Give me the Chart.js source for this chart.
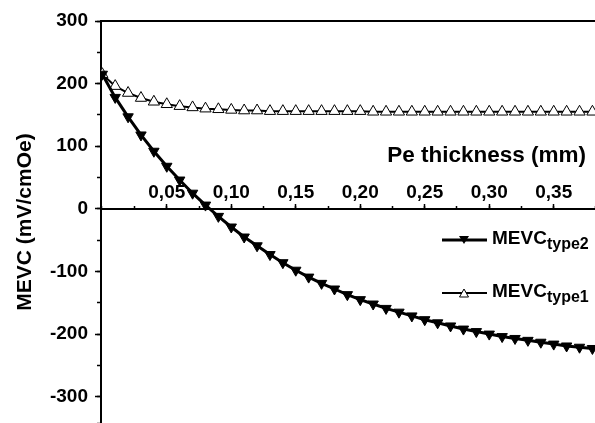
<!DOCTYPE html>
<html lang="en">
<head>
    <meta charset="UTF-8">
    <title>MEVC vs Pe thickness</title>
    <script src="https://cdn.jsdelivr.net/npm/chart.js"></script>
    <style>
        body {
            margin: 0;
            background: #fff;
            font-family: 'Liberation Sans', Arial, sans-serif;
        }

        .wrap {
            position: relative;
            width: 595px;
            height: 423px;
            overflow: hidden;
        }

        .x-title {
            position: absolute;
            right: 9px;
            top: 141px;
            font-weight: bold;
            font-size: 22.5px;
            line-height: 28px;
            color: #000;
        }

        .legend {
            position: absolute;
            left: 442px;
            top: 226px;
            font-weight: bold;
            color: #000;
        }

        .legend .row {
            display: flex;
            align-items: center;
            height: 28px;
            margin-bottom: 25px;
            font-size: 19px;
        }

        .legend svg {
            margin-right: 5px;
        }

        .legend sub {
            font-size: 16px;
            vertical-align: -5px;
        }
    </style>
</head>
<body>

<div class="wrap">
    <canvas id="chart" width="595" height="423"></canvas>

    <div class="x-title">Pe thickness (mm)</div>

    <div class="legend">
        <div class="row">
            <svg width="45" height="14">
                <line x1="0" y1="7" x2="45" y2="7" stroke="#000" stroke-width="3"/>
                <polygon points="17,3 27,3 22,11" fill="#000"/>
            </svg>
            <span>MEVC<sub>type2</sub></span>
        </div>
        <div class="row">
            <svg width="45" height="14">
                <line x1="0" y1="7" x2="45" y2="7" stroke="#000" stroke-width="2"/>
                <polygon points="17.5,11 26.5,11 22,3" fill="#fff" stroke="#000" stroke-width="1"/>
            </svg>
            <span>MEVC<sub>type1</sub></span>
        </div>
    </div>
</div>

<script>
    // Pe thickness (mm)
    const thickness = [0, 0.01, 0.02, 0.03, 0.04, 0.05, 0.06, 0.07, 0.08, 0.09,
        0.10, 0.11, 0.12, 0.13, 0.14, 0.15, 0.16, 0.17, 0.18, 0.19,
        0.20, 0.21, 0.22, 0.23, 0.24, 0.25, 0.26, 0.27, 0.28, 0.29,
        0.30, 0.31, 0.32, 0.33, 0.34, 0.35, 0.36, 0.37, 0.38];

    // MEVC (mV/cmOe)
    const mevcType2 = [215, 178, 147, 118, 92, 68, 46, 25, 6, -12,
        -29, -45, -59, -73, -86, -98, -109, -119, -128, -137,
        -145, -152, -159, -165, -171, -177, -182, -187, -192, -196,
        -200, -204, -207, -210, -213, -216, -219, -221, -223];

    const mevcType1 = [215, 196, 185, 177, 171, 167, 164, 162, 160, 159,
        158, 157, 157, 156, 156, 156, 156, 156, 156, 156,
        156, 155, 155, 155, 155, 155, 155, 155, 155, 155,
        155, 155, 155, 155, 155, 155, 155, 155, 155];

    const xTicks = [0.05, 0.10, 0.15, 0.20, 0.25, 0.30, 0.35];
    const yTicks = [-300, -200, -100, 0, 100, 200, 300];

    const xMin = -0.001, xMax = 0.382;
    const yMin = -342, yMax = 300;

    Chart.defaults.font.family = "'Liberation Sans', Arial, sans-serif";
    Chart.defaults.color = '#000';

    const tickFont = { size: 19, weight: 'bold' };

    function points(values) {
        return thickness.map((t, i) => ({ x: t, y: values[i] }));
    }

    // vertical axes reserve half a label at both ends; the plot runs to the edge here
    function noEndPadding(s) {
        s.paddingTop = 0;
        s.paddingBottom = 0;
    }

    const ctx = document.getElementById('chart').getContext('2d');

    new Chart(ctx, {
        type: 'line',
        data: {
            datasets: [{
                label: 'MEVC type2',
                data: points(mevcType2),
                borderColor: '#000',
                borderWidth: 3,
                pointStyle: 'triangle',
                rotation: 180,
                pointRadius: 6,
                pointBackgroundColor: '#000',
                pointBorderColor: '#000',
                pointBorderWidth: 1
            }, {
                label: 'MEVC type1',
                data: points(mevcType1),
                borderColor: '#000',
                borderWidth: 2,
                pointStyle: 'triangle',
                pointRadius: 6.5,
                pointBackgroundColor: '#fff',
                pointBorderColor: '#000',
                pointBorderWidth: 1
            }]
        },
        options: {
            responsive: false,
            animation: false,
            layout: {
                autoPadding: false,
                padding: { top: 21, left: 0, right: 0, bottom: 0 }
            },
            plugins: {
                legend: { display: false },
                tooltip: { enabled: false }
            },
            scales: {
                x: {
                    type: 'linear',
                    axis: 'x',
                    min: xMin,
                    max: xMax,
                    position: { y: 0 },
                    afterBuildTicks: (s) => { s.ticks = xTicks.map(v => ({ value: v })); },
                    ticks: {
                        autoSkip: false,
                        padding: -21,
                        color: '#000',
                        font: tickFont,
                        callback: (v) => v.toFixed(2).replace('.', ',')
                    },
                    grid: { drawOnChartArea: false, tickLength: -6, tickColor: '#000', tickWidth: 1.5 },
                    border: { color: '#000', width: 2 }
                },
                xMinor: {
                    type: 'linear',
                    axis: 'x',
                    min: xMin,
                    max: xMax,
                    position: { y: 0 },
                    ticks: { display: false, stepSize: 0.025, autoSkip: false },
                    grid: { drawOnChartArea: false, tickLength: -3, tickColor: '#000', tickWidth: 1.5 },
                    border: { display: false }
                },
                xTop: {
                    type: 'linear',
                    axis: 'x',
                    min: xMin,
                    max: xMax,
                    position: 'top',
                    ticks: { display: false },
                    grid: { display: false, drawTicks: false },
                    border: { color: '#000', width: 2 },
                    afterFit: (s) => { s.height = 0; }
                },
                y: {
                    type: 'linear',
                    axis: 'y',
                    min: yMin,
                    max: yMax,
                    position: 'left',
                    afterBuildTicks: (s) => { s.ticks = yTicks.map(v => ({ value: v })); },
                    ticks: {
                        padding: 7,
                        color: '#000',
                        font: tickFont,
                        callback: (v) => String(v)
                    },
                    grid: { drawOnChartArea: false, tickLength: 6, tickColor: '#000', tickWidth: 1.5 },
                    border: { color: '#000', width: 2 },
                    title: {
                        display: true,
                        text: 'MEVC (mV/cmOe)',
                        color: '#000',
                        font: { size: 21, weight: 'bold' },
                        padding: { top: 13, bottom: 0 }
                    },
                    afterFit: (s) => {
                        s.width = 101;
                        noEndPadding(s);
                    }
                },
                yMinor: {
                    type: 'linear',
                    axis: 'y',
                    min: yMin,
                    max: yMax,
                    position: { x: xMin },
                    ticks: { display: false, stepSize: 50 },
                    grid: { drawOnChartArea: false, tickLength: 4, tickColor: '#000', tickWidth: 1.5 },
                    border: { display: false },
                    afterFit: (s) => { s.width = 0; }
                }
            }
        }
    });
</script>

</body>
</html>
